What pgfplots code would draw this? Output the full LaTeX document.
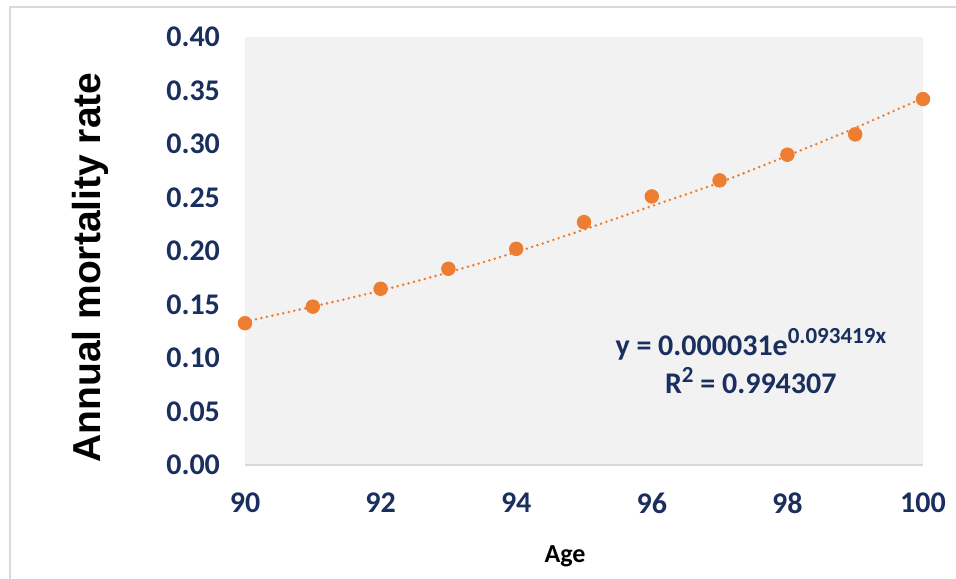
\documentclass[border=0pt]{standalone}
\usepackage{pgfplots}
\pgfplotsset{compat=1.18}
\usepackage{fontspec}
\setmainfont{Carlito}
\newfontfamily\arialfont{Liberation Sans}
\definecolor{dotorange}{HTML}{ED7D31}
\definecolor{navy}{HTML}{1A2F5E}
\definecolor{plotbg}{HTML}{F2F2F2}
\definecolor{frame}{HTML}{D9D9D9}

\begin{document}
\begin{tikzpicture}
\begin{axis}[
    name=ax,
    scale only axis,
    width=339pt, height=214pt,
    xmin=90, xmax=100,
    ymin=0, ymax=0.4,
    xtick={90,92,94,96,98,100},
    ytick={0,0.05,0.10,0.15,0.20,0.25,0.30,0.35,0.40},
    yticklabel style={/pgf/number format/.cd, fixed, fixed zerofill, precision=2, /tikz/.cd, xshift=-9pt},
    xticklabel style={yshift=-10.5pt},
    /pgf/number format/assume math mode=true,
    tick label style={font=\fontsize{15}{17}\selectfont\bfseries, text=navy},
    major tick length=0pt,
    axis line style={draw=none},
    axis background/.style={fill=plotbg},
    clip=false,
]
\draw[frame, line width=0.8pt] (rel axis cs:0,0) -- (rel axis cs:1,0);

% trendline
\addplot[dotorange, line width=1.4pt, line cap=round, dash pattern=on 0pt off 2.8pt, smooth] coordinates {
    (90, 0.134) (91, 0.148) (92, 0.163) (93, 0.180) (94, 0.199) (95, 0.220)
    (96, 0.242) (97, 0.264) (98, 0.289) (99, 0.315) (100, 0.343)
};

% observed rates
\addplot[only marks, mark=*, mark size=3.4pt, color=dotorange] coordinates {
    (90, 0.1325) (91, 0.148) (92, 0.1647) (93, 0.1834) (94, 0.202) (95, 0.227)
    (96, 0.251) (97, 0.266) (98, 0.290) (99, 0.309) (100, 0.342)
};

\node[align=center, text=navy, font=\fontsize{15}{16.5}\selectfont\bfseries] at (axis cs:97.46,0.097)
    {y = 0.000031e\raisebox{0.42em}{\fontsize{11.5}{12}\selectfont 0.093419x}\\[2.5pt]
     R\raisebox{0.38em}{\fontsize{11.5}{12}\selectfont 2} = 0.994307};
\end{axis}

\node[rotate=90, font=\arialfont\bfseries\fontsize{19.5}{22}\selectfont] at ([xshift=-77.5pt,yshift=-8.25pt]ax.west) {Annual mortality rate};
\node[font=\fontsize{13}{15}\selectfont\bfseries] at ([xshift=-9.5pt,yshift=-45.5pt]ax.south) {Age};

\pgfresetboundingbox
\path[use as bounding box] ([xshift=-122.5pt,yshift=-57pt]ax.south west) rectangle ([xshift=16.5pt,yshift=18.5pt]ax.north east);
\draw[frame, line width=0.8pt] ([xshift=-117.5pt,yshift=-60pt]ax.south west) |- ([xshift=20pt,yshift=15pt]ax.north east);
\end{tikzpicture}
\end{document}
